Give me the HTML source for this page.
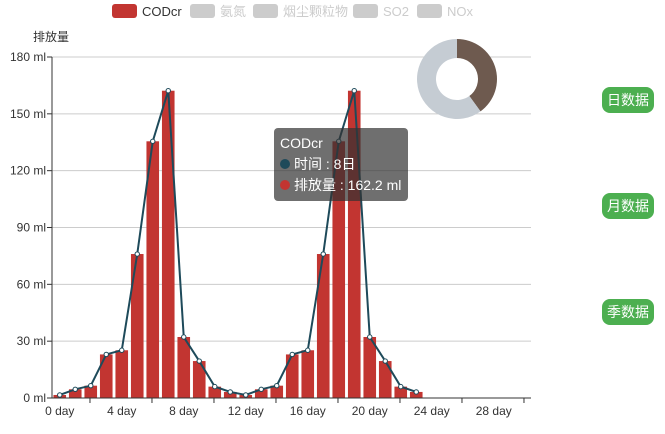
<!DOCTYPE html>
<html><head><meta charset="utf-8">
<style>
body{margin:0;width:665px;height:434px;background:#fff;overflow:hidden;font-family:"Liberation Sans","Noto Sans CJK SC",sans-serif;position:relative}
.btn{position:absolute;left:602px;width:52px;height:26px;border-radius:8px;background:#4caf50;color:#fff;font-size:14px;line-height:26px;text-align:center}
.tip{position:absolute;left:274px;top:128px;width:134px;height:73px;border-radius:4px;background:rgba(50,50,50,0.7);color:#fff;font-size:14px;box-sizing:border-box;padding:5px 6px;line-height:21px}
.dot{display:inline-block;width:10px;height:10px;border-radius:5px;margin-right:4px}
</style></head><body>
<svg id="chart" width="665" height="434" style="position:absolute;left:0;top:0" font-family="Liberation Sans, Noto Sans CJK SC, sans-serif"></svg>
<div class="tip">
<div>CODcr</div>
<div><span class="dot" style="background:#1e4a5a"></span>时间 : 8日</div>
<div><span class="dot" style="background:#c23531"></span>排放量 : 162.2 ml</div>
</div>
<div class="btn" style="top:87px">日数据</div>
<div class="btn" style="top:193px">月数据</div>
<div class="btn" style="top:299px">季数据</div>
<script>
const categories=[];for(let i=0;i<31;i++)categories.push(i+' day');
const values=[1.6,4.6,6.5,23,25.2,76,135.5,162.2,32.2,19.5,6,3.2,1.6,4.6,6.5,23,25.2,76,135.5,162.2,32.2,19.5,6,3.2];
const yTicks=[0,30,60,90,120,150,180];
const legendNames=['CODcr','氨氮','烟尘颗粒物','SO2','NOx'];
const pieValues=[40,60];
const NS='http://www.w3.org/2000/svg';
const svg=document.getElementById('chart');
function mk(t,a,name,inter){const e=document.createElementNS(NS,t);for(const k in a)e.setAttribute(k,a[k]);


svg.appendChild(e);return e;}
const x0=52,step=15.5,yB=398,yT=57;
const xc=i=>x0+step*(i+0.5);
const ys=v=>yB-(v/180)*(yB-yT);
yTicks.forEach(v=>{const y=ys(v);
 if(v>0){mk('line',{x1:x0,x2:531,y1:y,y2:y,stroke:'#ccc'},'grid-line');}
 mk('line',{x1:x0-5,x2:x0,y1:y,y2:y,stroke:'#333'},'y-tick');
 const t=mk('text',{x:x0-6,y:y+4,'text-anchor':'end','font-size':12,fill:'#333'},'y-tick-label');t.textContent=v+' ml';});
mk('line',{x1:x0,x2:x0,y1:yT,y2:yB,stroke:'#333'},'y-axis');
const yt=mk('text',{x:33,y:41,'font-size':12,fill:'#333'},'y-axis-title');yt.textContent='排放量';
values.forEach((v,i)=>{mk('rect',{x:xc(i)-6.3,y:ys(v),width:12.6,height:yB-ys(v),fill:'#c23531'},'bar');});
mk('line',{x1:x0,x2:531,y1:yB,y2:yB,stroke:'#333'},'x-axis');
for(let i=2;i<31;i+=4){const tx=x0+step*(i+0.45);mk('line',{x1:tx,x2:tx,y1:yB,y2:yB+5,stroke:'#333'},'x-tick');}
categories.forEach((c,i)=>{if(i%4)return;const t=mk('text',{x:xc(i),y:yB+17,'text-anchor':'middle','font-size':12,fill:'#333'},'x-tick-label');t.textContent=c;});
mk('polyline',{points:values.map((v,i)=>xc(i)+','+ys(v)).join(' '),fill:'none',stroke:'#1e4a5a','stroke-width':2},'trend-line');
values.forEach((v,i)=>{mk('circle',{cx:xc(i),cy:ys(v),r:2.2,fill:'#fff',stroke:'#1e4a5a','stroke-width':1},'line-point');});
const lxs=[112,190,253,353,417];
legendNames.forEach((n,i)=>{const lx=lxs[i];mk('rect',{x:lx,y:4,width:25,height:14,rx:3,fill:i?'#ccc':'#c23531'},'legend-swatch');
 const t=mk('text',{x:lx+30,y:16,'font-size':13,fill:i?'#ccc':'#333'},'legend-entry');t.textContent=n;});
const cx=457,cy=79,R=40,r=21;let a0=0;const tot=pieValues.reduce((a,b)=>a+b,0);const cols=['#6e5a4f','#c5ccd3'];
pieValues.forEach((v,i)=>{const a1=a0+v/tot*2*Math.PI;const p=(rr,a)=>[cx+rr*Math.sin(a),cy-rr*Math.cos(a)];
 const lg=(a1-a0)>Math.PI?1:0;const [x1,y1]=p(R,a0),[x2,y2]=p(R,a1),[x3,y3]=p(r,a1),[x4,y4]=p(r,a0);
 mk('path',{d:`M${x1},${y1}A${R},${R} 0 ${lg} 1 ${x2},${y2}L${x3},${y3}A${r},${r} 0 ${lg} 0 ${x4},${y4}Z`,fill:cols[i]},'donut-slice');a0=a1;});
</script>
</body></html>
